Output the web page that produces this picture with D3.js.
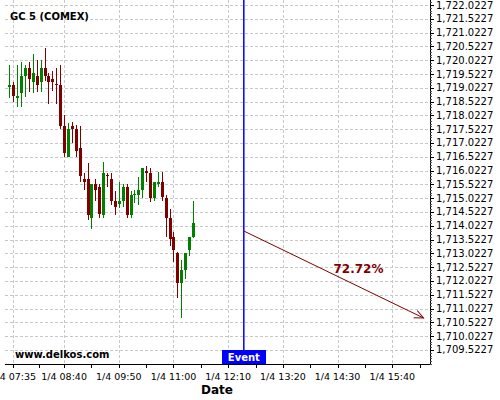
<!DOCTYPE html>
<html>
<head>
<meta charset="utf-8">
<script src="https://cdn.jsdelivr.net/npm/d3@7"></script>
<style>
  html, body { margin: 0; padding: 0; background: #fff; }
  svg { display: block; font-family: "DejaVu Sans", sans-serif; }
</style>
</head>
<body>
<svg id="chart" width="500" height="400"></svg>
<script>
// ---------------- data ----------------
const title = "GC 5 (COMEX)";
const dateLabel = "1/4";
const times = ["07:30","07:35","07:40","07:45","07:50","07:55","08:00","08:05","08:10","08:15",
               "08:20","08:25","08:30","08:35","08:40","08:45","08:50","08:55","09:00","09:05",
               "09:10","09:15","09:20","09:25","09:30","09:35","09:40","09:45","09:50","09:55",
               "10:00","10:05","10:10","10:15","10:20","10:25","10:30","10:35","10:40","10:45",
               "10:50","10:55","11:00","11:05","11:10","11:15","11:20","11:25"];
const opens  = [1719.052,1719.124,1718.671,1718.845,1719.450,1719.740,1719.244,1719.450,1719.244,1719.740,
                1719.450,1719.342,1719.150,1719.124,1717.639,1716.527,1717.639,1717.530,1716.831,1715.719,
                1715.719,1714.316,1715.537,1715.418,1714.414,1715.863,1715.719,1714.932,1714.824,1714.932,
                1715.418,1714.414,1715.128,1715.139,1715.320,1716.019,1715.947,1715.019,1715.537,1715.621,
                1715.019,1714.295,1713.606,1713.027,1711.940,1712.422,1713.146,1713.628];
const highs  = [1719.849,1719.244,1719.849,1719.958,1719.849,1719.940,1720.247,1720.030,1720.030,1720.454,
                1719.548,1719.643,1719.730,1719.849,1718.037,1717.737,1717.784,1717.675,1717.639,1715.925,
                1716.309,1715.537,1715.708,1715.526,1716.324,1715.947,1715.925,1715.295,1715.599,1715.526,
                1715.526,1715.295,1715.320,1715.802,1716.106,1716.201,1716.106,1715.621,1715.983,1715.983,
                1715.139,1714.621,1713.798,1713.074,1712.784,1713.027,1713.628,1714.921];
const lows   = [1718.653,1718.519,1718.338,1718.316,1718.700,1718.871,1718.834,1718.871,1718.871,1719.287,
                1718.436,1718.918,1718.436,1717.519,1716.527,1716.505,1717.012,1716.527,1715.621,1715.320,
                1714.233,1713.896,1714.921,1714.295,1714.295,1715.440,1714.777,1714.414,1714.668,1714.693,
                1714.295,1714.295,1714.849,1714.777,1715.019,1715.599,1714.896,1714.921,1715.418,1714.932,
                1713.606,1713.291,1712.701,1711.396,1710.672,1712.085,1712.929,1713.581];
const closes = [1719.124,1718.737,1718.726,1719.450,1719.740,1719.342,1719.548,1719.124,1719.740,1719.450,
                1719.244,1719.244,1719.114,1717.639,1716.650,1717.530,1717.530,1716.744,1715.838,1715.621,
                1714.414,1715.537,1715.320,1714.440,1715.947,1715.827,1714.932,1714.715,1714.921,1715.418,
                1714.414,1715.139,1715.175,1715.320,1716.106,1715.947,1715.019,1715.621,1715.621,1715.056,
                1714.316,1713.534,1713.146,1711.940,1712.422,1713.027,1713.628,1714.114];
const yTicks = [1709.5227,1710.0227,1710.5227,1711.0227,1711.5227,1712.0227,1712.5227,1713.0227,
                1713.5227,1714.0227,1714.5227,1715.0227,1715.5227,1716.0227,1716.5227,1717.0227,
                1717.5227,1718.0227,1718.5227,1719.0227,1719.5227,1720.0227,1720.5227,1721.0227,
                1721.5227,1722.0227];
const xTickTimes = ["07:35","08:40","09:50","11:00","12:10","13:20","14:30","15:40"];
const eventTime = "12:30";
const eventLabel = "Event";
const arrowTimes = ["12:30","16:20"];
const arrowPrices = [1713.834, 1710.682];
const arrowLabel = "72.72%";
const watermark = "www.delkos.com";
const xAxisTitle = "Date";

// ---------------- layout ----------------
const plot = {left: 5, right: 430, top: 0, bottom: 364};
const parseT = s => { const [h, m] = s.split(":").map(Number); return new Date(2024, 0, 4, h, m); };

const x = d3.scaleTime()
  .domain([new Date(2024,0,4,7,24,22), new Date(2024,0,4,16,28,17)])
  .range([plot.left, plot.right]);
const y = d3.scaleLinear()
  .domain([1709.015, 1722.204])
  .range([plot.bottom, plot.top]);

const svg = d3.select("#chart");
const green = "#008000", red = "#800000", blue = "#0000ff";

// grid
const grid = svg.append("g").attr("stroke", "#c8c8c8").attr("stroke-dasharray", "3,2")
  .attr("shape-rendering", "crispEdges");
grid.selectAll("line.h").data(yTicks).join("line")
  .attr("x1", plot.left).attr("x2", plot.right)
  .attr("y1", d => Math.round(y(d)) + 0.5).attr("y2", d => Math.round(y(d)) + 0.5);
grid.selectAll("line.v").data(xTickTimes).join("line")
  .attr("x1", d => Math.round(x(parseT(d))) + 0.5).attr("x2", d => Math.round(x(parseT(d))) + 0.5)
  .attr("y1", plot.top).attr("y2", plot.bottom);

// candles
const candles = times.map((t, i) => ({t: parseT(t), o: opens[i], h: highs[i], l: lows[i], c: closes[i]}));
const cg = svg.append("g").attr("shape-rendering", "crispEdges");
const cs = cg.selectAll("g").data(candles).join("g");
cs.append("line")
  .attr("x1", d => Math.round(x(d.t)) + 0.5).attr("x2", d => Math.round(x(d.t)) + 0.5)
  .attr("y1", d => y(d.h)).attr("y2", d => y(d.l))
  .attr("stroke", d => d.c >= d.o ? green : red);
cs.append("rect")
  .attr("x", d => Math.round(x(d.t)) - 1).attr("width", 3)
  .attr("y", d => y(Math.max(d.o, d.c)))
  .attr("height", d => Math.max(1, Math.abs(y(d.o) - y(d.c))))
  .attr("fill", d => d.c >= d.o ? green : red);

// axes
const xAxis = svg.append("g").attr("transform", `translate(0,${plot.bottom})`);
xAxis.append("line").attr("x1", plot.left).attr("x2", plot.right).attr("y1", 0.5).attr("y2", 0.5)
  .attr("stroke", "#000").attr("shape-rendering", "crispEdges");
const xt = xTickTimes.map(parseT);
const xMinor = [];
for (let i = 0; i < xt.length; i++) {
  xMinor.push(xt[i]);
  if (i < xt.length - 1) xMinor.push(new Date((+xt[i] + +xt[i+1]) / 2));
}
xMinor.push(new Date(+xt[xt.length-1] + (+xt[xt.length-1] - +xt[xt.length-2]) / 2));
xAxis.selectAll("line.tk").data(xMinor.filter(d => x(d) <= plot.right)).join("line")
  .attr("x1", d => Math.round(x(d)) + 0.5).attr("x2", d => Math.round(x(d)) + 0.5)
  .attr("y1", 0).attr("y2", 4).attr("stroke", "#000").attr("shape-rendering", "crispEdges");
xAxis.selectAll("text").data(xTickTimes).join("text")
  .attr("x", d => x(parseT(d))).attr("y", 16)
  .attr("text-anchor", "middle").attr("font-size", "9.5px").attr("fill", "#000")
  .text(d => `${dateLabel} ${d}`);

const yAxis = svg.append("g").attr("transform", `translate(${plot.right},0)`);
yAxis.append("line").attr("x1", 0.5).attr("x2", 0.5).attr("y1", plot.top).attr("y2", plot.bottom + 1)
  .attr("stroke", "#000").attr("shape-rendering", "crispEdges");
const yMinor = d3.range(0, Math.floor((y.domain()[1] - y.domain()[0]) / 0.1) + 1)
  .map(k => y.domain()[0] + 0.0077 + k * 0.1);
yAxis.selectAll("line.mn").data(yMinor.filter(v => y(v) >= 0 && y(v) <= plot.bottom)).join("line")
  .attr("x1", 0).attr("x2", 2)
  .attr("y1", d => Math.round(y(d)) + 0.5).attr("y2", d => Math.round(y(d)) + 0.5)
  .attr("stroke", "#555").attr("shape-rendering", "crispEdges");
yAxis.selectAll("line.mj").data(yTicks).join("line")
  .attr("x1", 0).attr("x2", 4)
  .attr("y1", d => Math.round(y(d)) + 0.5).attr("y2", d => Math.round(y(d)) + 0.5)
  .attr("stroke", "#000").attr("shape-rendering", "crispEdges");
const fmt = d3.format(",.4f");
yAxis.selectAll("text").data(yTicks).join("text")
  .attr("x", 6).attr("y", d => y(d)).attr("dy", "0.35em")
  .attr("font-size", "10px").attr("fill", "#000")
  .text(d => fmt(d));

// axis title
svg.append("text").attr("x", 217).attr("y", 394)
  .attr("text-anchor", "middle").attr("font-size", "12px").attr("font-weight", "bold")
  .text(xAxisTitle);

// title & watermark
svg.append("text").attr("x", 10).attr("y", 19.5).attr("font-size", "10px").attr("font-weight", "bold")
  .text(title);
svg.append("text").attr("x", 15).attr("y", 357.5).attr("font-size", "10px").attr("font-weight", "bold")
  .text(watermark);

// event line + label
const ex = x(parseT(eventTime));
svg.append("rect").attr("x", ex - 0.75).attr("y", plot.top).attr("width", 1.5).attr("height", 350)
  .attr("fill", blue);
svg.append("rect").attr("x", Math.round(ex) - 22).attr("y", 350).attr("width", 44).attr("height", 14)
  .attr("fill", blue);
svg.append("text").attr("x", ex).attr("y", 361).attr("text-anchor", "middle")
  .attr("font-size", "10px").attr("font-weight", "bold").attr("fill", "#fff").text(eventLabel);

// forecast arrow
svg.append("defs").append("marker").attr("id", "ah")
  .attr("markerUnits", "userSpaceOnUse").attr("markerWidth", 12).attr("markerHeight", 12)
  .attr("refX", 10).attr("refY", 6).attr("orient", "auto")
  .append("path").attr("d", "M1,2 L10,6 L1,10").attr("fill", "none").attr("stroke", red).attr("stroke-width", 1);
svg.append("line")
  .attr("x1", x(parseT(arrowTimes[0]))).attr("y1", y(arrowPrices[0]))
  .attr("x2", x(parseT(arrowTimes[1]))).attr("y2", y(arrowPrices[1]))
  .attr("stroke", red).attr("stroke-width", 1).attr("marker-end", "url(#ah)");
svg.append("text").attr("x", 358.5).attr("y", 273).attr("text-anchor", "middle")
  .attr("font-size", "12px").attr("font-weight", "bold").attr("fill", red).text(arrowLabel);
</script>
</body>
</html>
